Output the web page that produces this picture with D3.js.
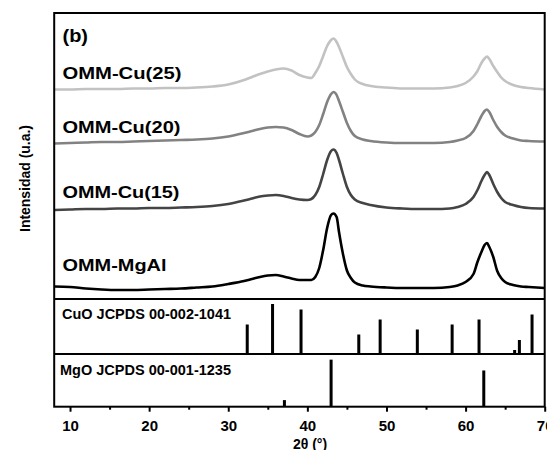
<!DOCTYPE html>
<html>
<head>
<meta charset="utf-8">
<script src="https://cdn.jsdelivr.net/npm/d3@7/dist/d3.min.js"></script>
<style>
  html, body { margin: 0; padding: 0; background: #fff; }
  svg { display: block; font-family: "Liberation Sans", Arial, sans-serif; font-weight: bold; }
</style>
</head>
<body>
<svg id="chart" width="547" height="450"></svg>
<script>
// ---------- data (2θ in degrees, intensity in arbitrary units incl. stacking offset) ----------
const seriesNames = ["OMM-Cu(25)", "OMM-Cu(20)", "OMM-Cu(15)", "OMM-MgAl"];
const seriesColors = ["#c2c2c2", "#828282", "#444444", "#000000"];

const theta = [8,10,12,14,16,18,20,22,24,26,28,30,32,33,34,35,36,37,38,39,40,40.5,41,41.5,42,42.5,43,43.3,43.7,44,44.5,45,45.5,46,47,48,50,52,54,56,58,59,60,61,61.5,62,62.4,62.7,63,63.5,64,64.5,65,66,67,68,70];

const cu25 = [209.5,209.5,210,210,210,210.5,210.5,211,211,211.5,212.5,214.5,219,222,225,227.5,229.5,230.5,228.5,224,221.5,221,226,233,243,253,259,260.5,257,252,242,232,225,219.5,215,213,211.5,210.5,210.5,210.5,211.5,213,216,222.5,228,236,240.5,242.5,240,233,227,221.5,218,214,212,211,209.5];
const cu20 = [155.5,156,156.5,157,157,157.5,158,158.5,159,159.5,160.5,162.5,166,168,170,171.5,172,171.5,169,165,162.5,163.5,167,174,185,197,205,207,204,198,187,176,168,163,159.5,158,156.5,156,156,156,157,158.5,161,168,175,183,188,189.5,187,179,172,167,163.5,160.5,158.5,158,157.5];
const cu15 = [89,89.5,90,90,90.5,90.5,91,91,91.5,92,93,95,98.5,100.5,102.5,103.5,104,103,101,99.5,99,100,104,112,125,139,148,149.5,146,139,125,112,104,99.5,96,94,91.5,90.5,90,90,90.5,92,95,102,109,118,124,127,124,115,107,101,97,94,92,91,90.5];
const mgal = [12.5,12,10.5,9.5,9,9,9.5,10,10.5,11.5,12.5,15,18,20,22,23.5,24,22.5,20.5,19,19,19,22,31,49,71,84,85.5,82,67,45,28.5,21,16.5,13.5,12.5,11.5,11,11,11,12,13.5,17,25,37,47,54,56,52,42,28,21,17,14,12.5,12,11];
const seriesValues = [cu25, cu20, cu15, mgal];

// reference patterns
const cuoPos = [32.4, 35.6, 39.2, 46.5, 49.2, 53.9, 58.3, 61.7, 66.2, 66.8, 68.4];
const cuoInt = [59, 100, 89, 39, 69, 49, 59, 69, 8, 28, 79];
const mgoPos = [37.1, 43.0, 62.3];
const mgoInt = [14, 100, 77];

const refLabels = ["CuO JCPDS 00-002-1041", "MgO JCPDS 00-001-1235"];
const xMajorTicks = [10, 20, 30, 40, 50, 60, 70];
const xMinorTicks = [15, 25, 35, 45, 55, 65];
const panelLabel = "(b)";
const xTitle = "2θ (°)";
const yTitle = "Intensidad (u.a.)";

// ---------- layout ----------
const svg = d3.select("#chart");
const L = 54.2, R = 544.7, T = 13, B1 = 299, B2 = 354, B3 = 406.7;

const x = d3.scaleLinear().domain([8, 70]).range([L, R]);
const yMain = d3.scaleLinear().domain([0, 286]).range([B1, T]);
const yCuO = d3.scaleLinear().domain([0, 110]).range([B2, B1]);
const yMgO = d3.scaleLinear().domain([0, 112]).range([B3, B2]);

svg.append("defs").append("clipPath").attr("id", "clipMain")
  .append("rect").attr("x", L).attr("y", T).attr("width", R - L).attr("height", B1 - T);

// curves
const line = d3.line()
  .x(d => x(d[0]))
  .y(d => yMain(d[1]))
  .curve(d3.curveMonotoneX);

const gCurves = svg.append("g").attr("clip-path", "url(#clipMain)");
seriesValues.forEach((vals, i) => {
  const pts = theta.map((t, k) => [t, vals[k]]);
  gCurves.append("path")
    .datum(pts)
    .attr("d", line)
    .attr("fill", "none")
    .attr("stroke", seriesColors[i])
    .attr("stroke-width", 2.6)
    .attr("stroke-linejoin", "round");
});

// series labels
const labelBaselines = [79, 133, 198, 271];
const labelWidths = [119, 118, 117, 104];
seriesNames.forEach((n, i) => {
  svg.append("text")
    .attr("x", 62.5)
    .attr("y", labelBaselines[i])
    .attr("font-size", 16)
    .attr("textLength", labelWidths[i])
    .attr("lengthAdjust", "spacingAndGlyphs")
    .attr("fill", "#000")
    .text(n);
});

svg.append("text")
  .attr("x", 62.5).attr("y", 42)
  .attr("font-size", 18)
  .attr("textLength", 25.5)
  .attr("lengthAdjust", "spacingAndGlyphs")
  .text(panelLabel);

// reference sticks
const barW = 3;
svg.append("g").selectAll("rect").data(cuoPos).join("rect")
  .attr("x", (d) => x(d) - barW / 2)
  .attr("y", (d, i) => yCuO(cuoInt[i]))
  .attr("width", barW)
  .attr("height", (d, i) => yCuO(0) - yCuO(cuoInt[i]))
  .attr("fill", "#000");
svg.append("g").selectAll("rect").data(mgoPos).join("rect")
  .attr("x", (d) => x(d) - barW / 2)
  .attr("y", (d, i) => yMgO(mgoInt[i]))
  .attr("width", barW)
  .attr("height", (d, i) => yMgO(0) - yMgO(mgoInt[i]))
  .attr("fill", "#000");

svg.append("text").attr("x", 62).attr("y", 318.5)
  .attr("font-size", 14).attr("textLength", 169).attr("lengthAdjust", "spacingAndGlyphs")
  .text(refLabels[0]);
svg.append("text").attr("x", 60).attr("y", 375)
  .attr("font-size", 14).attr("textLength", 171).attr("lengthAdjust", "spacingAndGlyphs")
  .text(refLabels[1]);

// frame and dividers
svg.append("rect").attr("x", L).attr("y", T).attr("width", R - L).attr("height", B3 - T)
  .attr("fill", "none").attr("stroke", "#000").attr("stroke-width", 2);
[B1, B2].forEach(yy => {
  svg.append("line").attr("x1", L).attr("x2", R).attr("y1", yy).attr("y2", yy)
    .attr("stroke", "#000").attr("stroke-width", 2);
});

// x axis
const gx = svg.append("g").attr("transform", `translate(0,${B3})`)
  .call(d3.axisBottom(x).tickValues(xMajorTicks).tickSize(5).tickFormat(d3.format("d")));
gx.select(".domain").remove();
gx.selectAll(".tick line").attr("stroke-width", 2);
gx.selectAll(".tick text")
  .attr("y", 24).attr("dy", 0)
  .attr("font-size", 15).attr("font-weight", "bold")
  .attr("font-family", "Liberation Sans, Arial, sans-serif")
  .attr("fill", "#000");

const gxm = svg.append("g").attr("transform", `translate(0,${B3})`)
  .call(d3.axisBottom(x).tickValues(xMinorTicks).tickSize(3).tickFormat(""));
gxm.select(".domain").remove();
gxm.selectAll(".tick line").attr("stroke-width", 2);

// axis titles
svg.append("text").attr("x", 310).attr("y", 449)
  .attr("text-anchor", "middle").attr("font-size", 14)
  .text(xTitle);

svg.append("text")
  .attr("transform", "translate(29.5,178.5) rotate(-90)")
  .attr("text-anchor", "middle").attr("font-size", 14)
  .attr("textLength", 107).attr("lengthAdjust", "spacingAndGlyphs")
  .text(yTitle);
</script>
</body>
</html>
